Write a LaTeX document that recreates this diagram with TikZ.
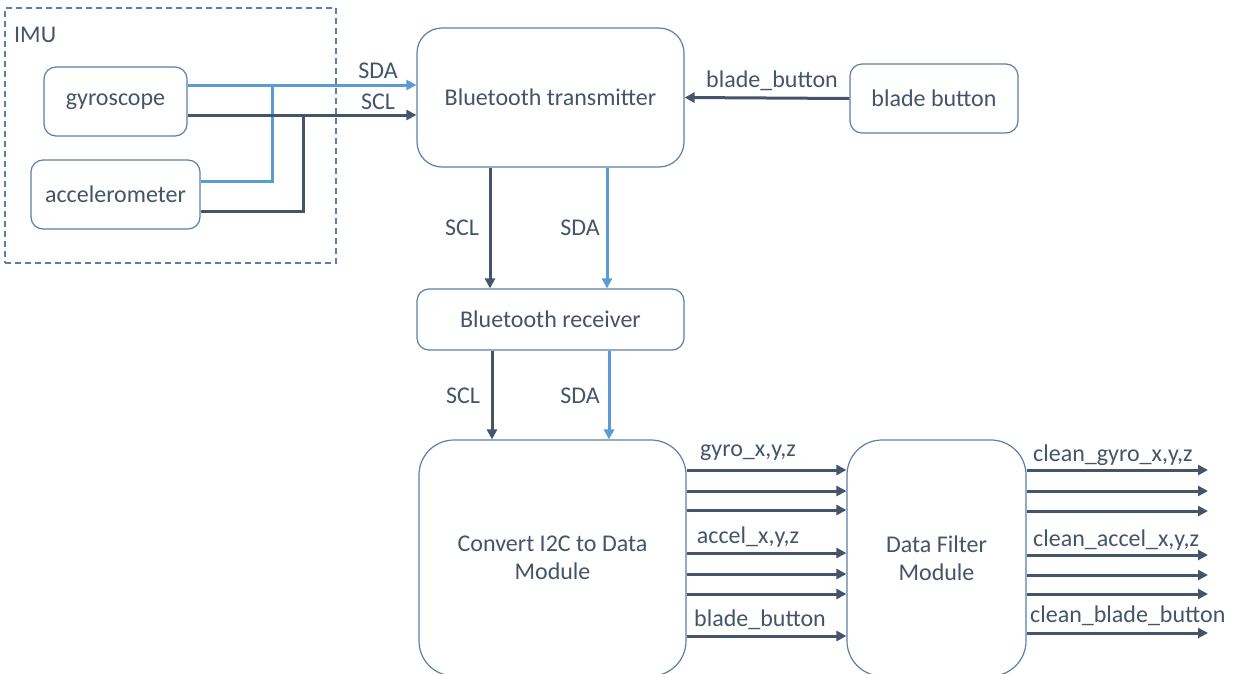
\documentclass[tikz,border=0pt]{standalone}
\usepackage{fontspec}
\setmainfont{Carlito}
\usetikzlibrary{arrows.meta}
\definecolor{ink}{HTML}{44546A}
\definecolor{sdablue}{HTML}{5B9BD5}
\definecolor{frame}{HTML}{5A80A8}
\begin{document}
\begin{tikzpicture}[x=1pt,y=-1pt,
  every node/.style={font=\fontsize{24}{28}\selectfont, text=ink},
  box/.style={draw=frame, line width=1.2pt, fill=white, inner sep=0pt, align=center},
  lbl/.style={inner sep=0pt},
  wire/.style={line width=3pt},
  sclwire/.style={wire, draw=ink},
  sdawire/.style={wire, draw=sdablue},
  tip/.style={-{Triangle[length=10pt,width=10pt]}}]
\useasboundingbox (0,0) rectangle (1237,673);
\clip (0,0) rectangle (1237,673);

% IMU enclosure
\node[draw=frame, line width=1.2pt, dash pattern=on 6pt off 4pt,
      minimum width=331pt, minimum height=255pt, inner sep=0pt] (imu) at (170.5,135.5) {};
\node[lbl, anchor=west] (imulabel) at (14,35) {IMU};

% blocks
\node[box, rounded corners=12pt, minimum width=143pt, minimum height=69pt] (gyro) at (115.5,101.5) {gyroscope};
\node[box, rounded corners=12pt, minimum width=169pt, minimum height=69pt] (accel) at (115.5,194.5) {accelerometer};
\node[box, rounded corners=25pt, minimum width=267pt, minimum height=139pt] (tx) at (550.5,97.5) {Bluetooth transmitter};
\node[box, rounded corners=12pt, minimum width=168pt, minimum height=69pt] (bb) at (934,98.5) {blade button};
\node[box, rounded corners=12pt, minimum width=267pt, minimum height=61pt] (rx) at (550.5,319.5) {Bluetooth receiver};
\node[box, rounded corners=35pt, minimum width=267pt, minimum height=236pt] (conv) at (552.5,558) {Convert I2C to Data\\Module};
\node[box, rounded corners=35pt, minimum width=179pt, minimum height=236pt] (filt) at (936.5,558) {Data Filter\\Module};

% I2C bus from the sensors to the transmitter
\coordinate (jsda) at (272,85);
\coordinate (jscl) at (303,115);
\draw[sdawire] ([yshift=13.5pt]accel.east) -| (jsda);
\draw[sclwire] ([yshift=-16.5pt]accel.east) -| (jscl);
\draw[sdawire, tip] ([yshift=16.5pt]gyro.east) -- ([yshift=12.5pt]tx.west);
\draw[sclwire, tip] ([yshift=-13.5pt]gyro.east) -- ([yshift=-17.5pt]tx.west);
\node[lbl] (sdalbl1) at (378,71) {SDA};
\node[lbl] (scllbl1) at (378,102) {SCL};

% blade button input
\draw[sclwire, tip] (bb.west) -- (tx.east);
\node[lbl] (bblbl) at (772,81) {blade\_button};

% transmitter to receiver
\draw[sclwire, tip] ([xshift=-60.5pt]tx.south) -- ([xshift=-60.5pt]rx.north);
\draw[sdawire, tip] ([xshift=56.5pt]tx.south) -- ([xshift=56.5pt]rx.north);
\node[lbl] (scllbl2) at (462,228) {SCL};
\node[lbl] (sdalbl2) at (580,228) {SDA};

% receiver to converter
\draw[sclwire, tip] ([xshift=-58.5pt]rx.south) -- ([xshift=-58.5pt]rx.south |- conv.north);
\draw[sdawire, tip] ([xshift=58.5pt]rx.south) -- ([xshift=58.5pt]rx.south |- conv.north);
\node[lbl] (scllbl3) at (463,396) {SCL};
\node[lbl] (sdalbl3) at (580,396) {SDA};

% converter outputs to the filter
\foreach \y in {470,491,510,553,574,594,636}
  \draw[sclwire, tip] (conv.east |- 0,\y) -- (filt.west |- 0,\y);
\node[lbl] (gyrolbl) at (748,453) {gyro\_x,y,z};
\node[lbl] (accellbl) at (748,537) {accel\_x,y,z};
\node[lbl] (btnlbl) at (760,620) {blade\_button};

% filter outputs
\foreach \y [count=\i] in {470,491,511,555,575,594,633} {
  \coordinate (out\i) at (1208,\y);
  \draw[sclwire, tip] (filt.east |- out\i) -- (out\i);
}
\node[lbl, anchor=west] (cgyrolbl) at (1033,455) {clean\_gyro\_x,y,z};
\node[lbl, anchor=west] (caccellbl) at (1033,540) {clean\_accel\_x,y,z};
\node[lbl, anchor=west] (cbtnlbl) at (1030,616) {clean\_blade\_button};
\end{tikzpicture}
\end{document}
